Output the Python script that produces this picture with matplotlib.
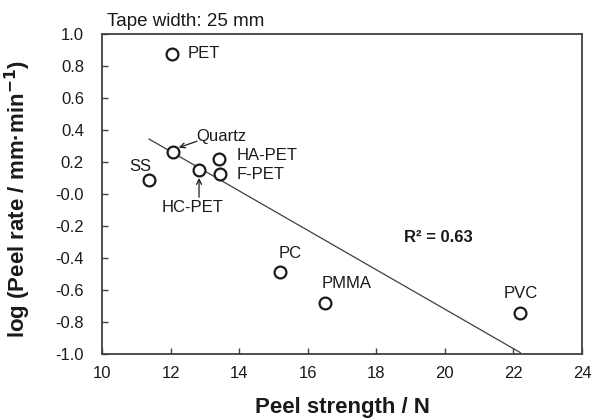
import numpy as np
import matplotlib
matplotlib.use("Agg")
import matplotlib.pyplot as plt

plt.rcParams['font.family'] = ['Liberation Sans', 'DejaVu Sans']

materials = ["PET", "Quartz", "HA-PET", "F-PET", "HC-PET", "SS", "PC", "PMMA", "PVC"]
peel_strength = [12.04, 12.07, 13.41, 13.44, 12.83, 11.37, 15.19, 16.50, 22.20]
log_peel_rate = [0.875, 0.26, 0.22, 0.125, 0.15, 0.085, -0.49, -0.68, -0.745]

# label anchor positions (data coords)
label_x = [12.50, 12.75, 13.92, 13.92, 12.65, 10.80, 15.14, 16.42, 21.70]
label_y = [0.875, 0.36, 0.24, 0.12, -0.085, 0.17, -0.37, -0.56, -0.625]
label_ha = ['left', 'left', 'left', 'left', 'center', 'left', 'left', 'left', 'left']

fig = plt.figure(figsize=(5.92, 4.2), dpi=100)
ax = fig.add_axes([102/592, 1-354/420, 480/592, 320/420])

x = np.array(peel_strength)
y = np.array(log_peel_rate)
slope, intercept = np.polyfit(x, y, 1)
xf = np.array([x.min(), x.max()])
ax.plot(xf, slope*xf + intercept, color='#404040', lw=0.9, zorder=2)

ax.plot(x, y, 'o', ms=8.5, mfc='white', mec='#1a1a1a', mew=1.6, zorder=3)

for name, lx, ly, ha in zip(materials, label_x, label_y, label_ha):
    ax.text(lx, ly, name, fontsize=12, va='center', ha=ha, color='#1a1a1a')

arrow_kw = dict(arrowstyle='->', color='#1a1a1a', lw=0.9, shrinkA=0, shrinkB=0,
                mutation_scale=9)
# Quartz arrow
ax.annotate("", xy=(12.24, 0.29), xytext=(12.77, 0.33), arrowprops=arrow_kw)
# HC-PET arrow
ax.annotate("", xy=(12.83, 0.10), xytext=(12.83, -0.02), arrowprops=arrow_kw)

ax.text(18.8, -0.275, "R² = 0.63", fontsize=12, fontweight='bold', va='center', ha='left',
        color='#1a1a1a')

ax.set_xlim(10, 24)
ax.set_ylim(-1.0, 1.0)
ax.set_xticks(np.arange(10, 25, 2))
ax.set_yticks(np.round(np.arange(-1.0, 1.01, 0.2), 1))
ax.set_yticklabels([f"{v:.1f}" for v in np.arange(-1.0, 1.01, 0.2)])
ax.tick_params(direction='in', length=4, width=1, colors='#404040', labelcolor='#1a1a1a',
               labelsize=12)
ax.tick_params(axis='x', pad=9)
ax.tick_params(axis='y', pad=13)
for s in ax.spines.values():
    s.set_color('#404040')
    s.set_linewidth(1.3)

ax.set_xlabel("Peel strength / N", fontsize=16, fontweight='bold', labelpad=11, color='#1a1a1a')
ax.set_ylabel("log (Peel rate / mm·min$^{\\mathbf{-1}}$)", fontsize=16, fontweight='bold',
              color='#1a1a1a')
ax.yaxis.set_label_coords(-0.143, 0.483)

fig.text(107/592, 1-22/420, "Tape width: 25 mm", fontsize=13.5, va='center', ha='left',
         color='#1a1a1a')

fig.savefig("out.png", dpi=100)
